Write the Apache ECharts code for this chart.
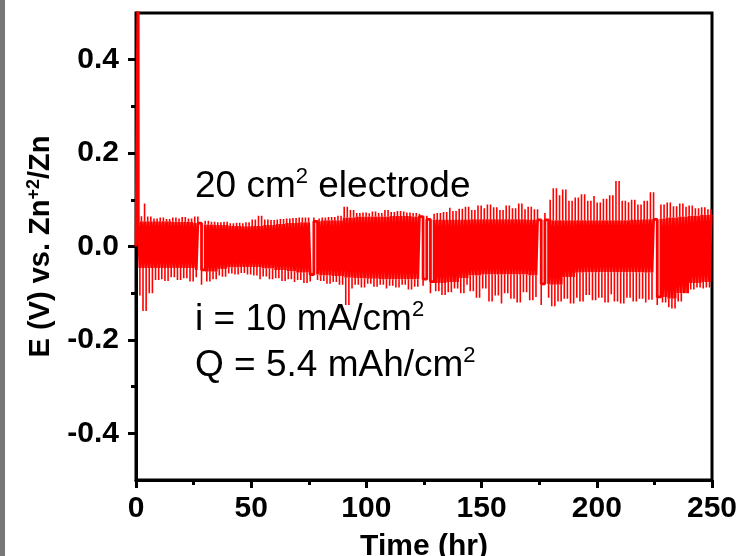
<!DOCTYPE html>
<html><head><meta charset="utf-8">
<script src="https://cdn.jsdelivr.net/npm/echarts@6/dist/echarts.min.js"></script>
<style>html,body{margin:0;padding:0;background:#fff}#c{width:741px;height:556px}</style>
</head><body><div id="c"></div>
<script>
// ---------- data ----------
const xTicks = [0, 50, 100, 150, 200, 250];
const yTicks = [-0.4, -0.2, 0, 0.2, 0.4];
const yMinorTicks = [-0.3, -0.1, 0.1, 0.3];

// half-cycle length (h) as seen from the spike spacing in the picture
const halfPeriod = 0.68;
const gapHalfPeriod = 1.6;          // longer half-cycles at the restart points
const gapStart = [26.5, 75.5, 123.0, 173.8, 224.2];
const gapEnd   = [29.0, 78.5, 128.5, 178.0, 226.5];

// initial nucleation spike (V)
const initT = [0.0, 0.85, 0.95, 1.0];
const initV = [0.0, 0.0, 0.62, 0.05];

// plateau levels (V), one value per 5 h bin (0-5, 5-10, ... 245-250)
const plateauBin = 5;
const upPlat = [0.054,0.054,0.054,0.053,0.053,0.050,0.047,0.046,0.044,0.043,
                0.044,0.046,0.048,0.050,0.052,0.054,0.056,0.056,0.062,0.064,
                0.064,0.064,0.065,0.065,0.064,0.058,0.057,0.057,0.057,0.058,
                0.058,0.058,0.058,0.058,0.057,0.057,0.056,0.056,0.056,0.056,
                0.056,0.056,0.056,0.057,0.058,0.060,0.062,0.064,0.066,0.068];
const loPlat = [-0.046,-0.046,-0.046,-0.046,-0.046,-0.050,-0.054,-0.048,-0.045,-0.044,
                -0.044,-0.047,-0.050,-0.053,-0.056,-0.060,-0.062,-0.063,-0.067,-0.068,
                -0.069,-0.070,-0.070,-0.070,-0.070,-0.075,-0.078,-0.076,-0.068,-0.062,
                -0.060,-0.060,-0.060,-0.060,-0.062,-0.080,-0.082,-0.065,-0.056,-0.055,
                -0.055,-0.055,-0.055,-0.055,-0.056,-0.108,-0.112,-0.100,-0.078,-0.076];

// spike tips (V), one value per 2.5 h bin
const tipBin = 2.5;
const upTip = [0.065,0.092,0.064,0.060,0.062,0.059,0.062,0.060,0.063,0.060,
               0.064,0.066,0.055,0.053,0.052,0.053,0.050,0.051,0.050,0.052,
               0.058,0.066,0.058,0.057,0.058,0.059,0.060,0.061,0.062,0.062,
               0.062,0.060,0.062,0.063,0.063,0.066,0.085,0.078,0.072,0.073,
               0.071,0.075,0.072,0.078,0.074,0.076,0.075,0.073,0.072,0.070,
               0.066,0.070,0.072,0.074,0.083,0.076,0.081,0.085,0.078,0.088,
               0.082,0.090,0.084,0.078,0.088,0.082,0.092,0.080,0.085,0.080,
               0.072,0.100,0.125,0.110,0.122,0.098,0.105,0.112,0.098,0.108,
               0.094,0.102,0.110,0.140,0.098,0.095,0.100,0.090,0.098,0.116,
               0.085,0.090,0.094,0.086,0.092,0.085,0.088,0.082,0.084,0.080];
const loTip = [-0.105,-0.138,-0.100,-0.072,-0.070,-0.074,-0.066,-0.072,-0.068,-0.075,
               -0.066,-0.082,-0.075,-0.070,-0.062,-0.065,-0.058,-0.060,-0.057,-0.060,
               -0.062,-0.070,-0.064,-0.070,-0.068,-0.074,-0.070,-0.076,-0.072,-0.078,
               -0.075,-0.072,-0.074,-0.080,-0.076,-0.082,-0.125,-0.090,-0.082,-0.088,
               -0.080,-0.086,-0.082,-0.090,-0.084,-0.088,-0.082,-0.092,-0.086,-0.084,
               -0.095,-0.100,-0.096,-0.104,-0.098,-0.090,-0.100,-0.082,-0.096,-0.110,
               -0.090,-0.118,-0.105,-0.122,-0.100,-0.112,-0.120,-0.098,-0.115,-0.108,
               -0.125,-0.110,-0.128,-0.118,-0.112,-0.122,-0.110,-0.118,-0.104,-0.115,
               -0.110,-0.120,-0.102,-0.118,-0.122,-0.110,-0.118,-0.112,-0.120,-0.114,
               -0.125,-0.120,-0.130,-0.133,-0.118,-0.100,-0.092,-0.088,-0.090,-0.088];
const cycleStart = 1.0, cycleEnd = 250;

// ---------- build the voltage trace from the arrays ----------
function binVal(arr, size, t) {
  let i = Math.floor(t / size);
  if (i < 0) i = 0;
  if (i >= arr.length) i = arr.length - 1;
  return arr[i];
}
function inGap(t) {
  for (let i = 0; i < gapStart.length; i++) if (t >= gapStart[i] && t < gapEnd[i]) return true;
  return false;
}
// band: switching between plateaus; spikes: overshoot at each switch
const band = initT.map((t, i) => [t, initV[i]]);
const spikes = [];
let tc = cycleStart, up = true;
while (tc < cycleEnd - 1e-9) {
  const plat = up ? binVal(upPlat, plateauBin, tc) : binVal(loPlat, plateauBin, tc);
  const tip = up ? binVal(upTip, tipBin, tc) : binVal(loTip, tipBin, tc);
  const h = inGap(tc) ? gapHalfPeriod : halfPeriod;
  const te = Math.min(tc + h, cycleEnd);
  band.push([tc, plat]);
  band.push([te, plat]);
  spikes.push([tc, plat], [tc, tip], [tc, null]);
  tc = te; up = !up;
}

// ---------- chart ----------
const FF = '"Liberation Sans", Arial, Helvetica, sans-serif';
const chart = echarts.init(document.getElementById('c'), null, {renderer: 'canvas'});
const annoRich = {
  m: {fontSize: 37, fontFamily: FF, color: '#000', lineHeight: 42},
  s: {fontSize: 22, fontFamily: FF, color: '#000', verticalAlign: 'top', lineHeight: 24}
};
chart.setOption({
  animation: false,
  backgroundColor: '#fff',
  grid: {left: 136, right: 29, top: 13, bottom: 76, show: true, borderColor: '#000', borderWidth: 3,
         containLabel: false, outerBoundsMode: 'none'},
  xAxis: {
    type: 'value', min: xTicks[0], max: xTicks[xTicks.length - 1], interval: 50,
    name: 'Time (hr)', nameLocation: 'middle', nameGap: 52,
    nameTextStyle: {fontFamily: FF, fontWeight: 'bold', fontSize: 30, color: '#000'},
    axisLine: {show: true, onZero: false, lineStyle: {color: '#000', width: 3}},
    axisTick: {show: true, inside: false, length: 8, lineStyle: {color: '#000', width: 3}},
    minorTick: {show: true, splitNumber: 2, length: 5, lineStyle: {color: '#000', width: 3}},
    axisLabel: {fontFamily: FF, fontWeight: 'bold', fontSize: 30, color: '#000', margin: 14},
    splitLine: {show: false}, minorSplitLine: {show: false}
  },
  yAxis: [{
    type: 'value', min: -0.5, max: 0.5, position: 'left',
    name: '{b|E (V) vs. Zn}{s|+2}{b|/Zn}', nameLocation: 'middle', nameGap: 80, nameRotate: 90,
    nameTextStyle: {rich: {
      b: {fontFamily: FF, fontWeight: 'bold', fontSize: 29, color: '#000', lineHeight: 31},
      s: {fontFamily: FF, fontWeight: 'bold', fontSize: 18, color: '#000', verticalAlign: 'top', lineHeight: 19}
    }},
    axisLine: {show: true, onZero: false, lineStyle: {color: '#000', width: 3}},
    axisTick: {show: true, inside: false, length: 8, customValues: yTicks, lineStyle: {color: '#000', width: 3}},
    axisLabel: {customValues: yTicks, formatter: v => v.toFixed(1), fontFamily: FF, fontWeight: 'bold', fontSize: 30, color: '#000', margin: 17},
    splitLine: {show: false}
  }, {
    type: 'value', min: -0.5, max: 0.5, position: 'left', offset: 0,
    axisLine: {show: false},
    axisTick: {show: true, inside: false, length: 5, customValues: yMinorTicks, lineStyle: {color: '#000', width: 3}},
    axisLabel: {show: false},
    splitLine: {show: false}
  }],
  series: [{
    type: 'line', data: band, showSymbol: false, symbol: 'none', clip: true,
    lineStyle: {color: '#ff0000', width: 2.8}, sampling: null, silent: true
  }, {
    type: 'line', data: spikes, showSymbol: false, symbol: 'none', clip: true, connectNulls: false,
    lineStyle: {color: '#ff0000', width: 1.6}, sampling: null, silent: true
  }],
  graphic: [
    {type: 'rect', left: 0, top: 0, shape: {width: 5, height: 556}, style: {fill: '#777'}},
    {type: 'text', left: 195, top: 166, style: {text: '{m|20 cm}{s|2}{m| electrode}', rich: annoRich}},
    {type: 'text', left: 195, top: 299, style: {text: '{m|i = 10 mA/cm}{s|2}', rich: annoRich}},
    {type: 'text', left: 195, top: 345, style: {text: '{m|Q = 5.4 mAh/cm}{s|2}', rich: annoRich}}
  ]
});
</script>
</body></html>
